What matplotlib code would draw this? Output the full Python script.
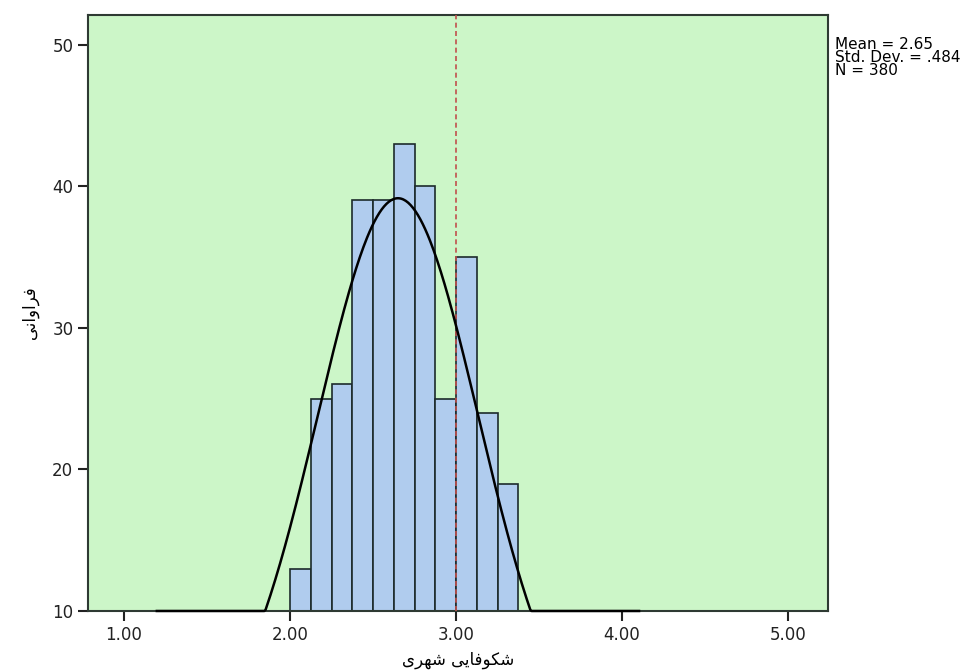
import numpy as np
import matplotlib
matplotlib.use("Agg")
import matplotlib.pyplot as plt

# histogram bins (lower edges) and counts
bin_edges = [2.0, 2.125, 2.25, 2.375, 2.5, 2.625, 2.75, 2.875, 3.0, 3.125, 3.25, 3.375]
counts = [13, 25, 26, 39, 39, 43, 40, 25, 35, 24, 19]

mean_val = 2.65
std_val = 0.484
n_val = 380
ref_line = 3.0

x_ticks = [1.0, 2.0, 3.0, 4.0, 5.0]
x_tick_labels = ["1.00", "2.00", "3.00", "4.00", "5.00"]
y_ticks = [10, 20, 30, 40, 50]

# Persian labels in presentation forms, visual order
x_label = "\uFBFC\uFEAE\uFEEC\uFEB7 \uFBFD\uFBFE\uFE8E\uFED3\uFEEE\uFB91\uFEB7"
y_label = "\uFBFD\uFEE7\uFE8D\uFEED\uFE8D\uFEAE\uFED3"

fig = plt.figure(figsize=(9.77, 6.72), dpi=100)
ax = fig.add_axes([0.090, 0.0908, 0.7575, 0.887])
ax.set_facecolor("#ccf6c8")

widths = np.diff(bin_edges)
ax.bar(bin_edges[:-1], counts, width=widths, align="edge", bottom=0,
       color="#b0ccee", edgecolor="#1c2b2b", linewidth=1.2, zorder=2)

# fitted normal curve (mean +/- 3 sd), scaled to counts
bw = bin_edges[1] - bin_edges[0]
xs = np.linspace(mean_val - 3 * std_val, mean_val + 3 * std_val, 400)
ys = n_val * bw / (std_val * np.sqrt(2 * np.pi)) * np.exp(-0.5 * ((xs - mean_val) / std_val) ** 2)
ax.plot(xs, np.maximum(ys, 10), color="black", linewidth=1.8, zorder=4, clip_on=False)

ax.axvline(ref_line, color="#c0504d", linewidth=1.2, linestyle=(0, (3, 2)), zorder=3)

ax.set_xlim(0.783, 5.24)
ax.set_ylim(10, 52.1)
ax.set_xticks(x_ticks)
ax.set_xticklabels(x_tick_labels)
ax.set_yticks(y_ticks)
ax.tick_params(direction="out", length=7, width=1.5, labelsize=12, colors="#222222")
for s in ax.spines.values():
    s.set_color("#2e3a33")
    s.set_linewidth(1.5)

ax.set_xlabel(x_label, fontsize=12, family=["DejaVu Sans"], va="center")
ax.xaxis.set_label_coords(0.5, -0.082)
ax.set_ylabel(y_label, fontsize=12, family=["DejaVu Sans"], va="center")
ax.yaxis.set_label_coords(-0.078, 0.5)

fig.text(0.855, 0.945, "Mean = %.2f\nStd. Dev. = .%03d\nN = %d" % (mean_val, round(std_val * 1000), n_val),
         fontsize=11, family=["DejaVu Sans"], va="top", ha="left",
         linespacing=0.85)

fig.savefig("out.png", dpi=100, facecolor="white")
